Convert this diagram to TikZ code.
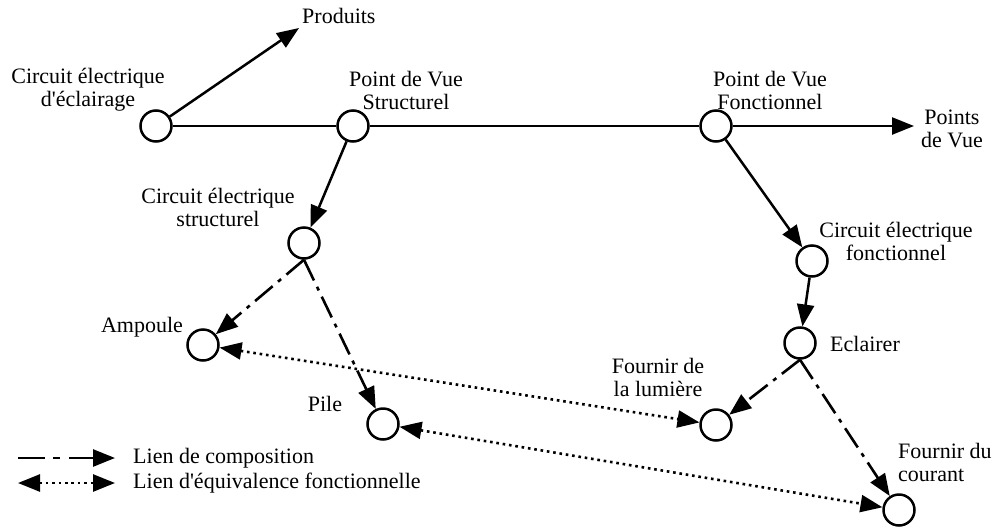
\documentclass[tikz,border=0pt]{standalone}
\usepackage{fontspec}
\setmainfont{Liberation Serif}
\usetikzlibrary{arrows.meta}
\newcommand{\qs}{\textquotesingle}
\begin{document}
\begin{tikzpicture}[x=1pt,y=-1pt,
  every node/.style={font=\fontsize{22}{23}\selectfont},
  pt/.style={draw,circle,line width=2.5pt,minimum size=31pt,inner sep=0pt},
  lbl/.style={align=center,inner sep=0pt},
  lbll/.style={align=left,inner sep=0pt,anchor=west},
  tip/.style={-{Triangle[length=22pt,width=17pt]}},
  dtip/.style={{Triangle[length=22pt,width=17pt]}-{Triangle[length=22pt,width=17pt]}},
  solidln/.style={line width=2.5pt},
  comp/.style={line width=2.6pt,tip,dash pattern=on 23pt off 7pt on 4pt off 7pt},
  equiv/.style={line width=2.6pt,dtip,dash pattern=on 2.6pt off 3.8pt}]
\useasboundingbox (0,0) rectangle (994,528);
% nodes
\node[pt] (A) at (156,126) {};
\node[pt] (PVS) at (353,126) {};
\node[pt] (PVF) at (716,126) {};
\node[pt] (CES) at (304,243) {};
\node[pt] (CEF) at (812,261) {};
\node[pt] (AMP) at (203,345) {};
\node[pt] (PILE) at (383,424) {};
\node[pt] (ECL) at (800,343) {};
\node[pt] (FL) at (716,425) {};
\node[pt] (FC) at (899,510) {};
\coordinate (prodtip) at (299,28);
\coordinate (pvtip) at (914,126);
% labels
\node[lbll] (lprod) at (302,16) {Produits};
\node[lbl] (lA) at (88,90) {Circuit électrique\\d\qs éclairage};
\node[lbl] (lPVS) at (406,90) {Point de Vue\\Structurel};
\node[lbl] (lPVF) at (770,90) {Point de Vue\\Fonctionnel};
\node[lbl] (lPV) at (952,129) {Points\\de Vue};
\node[lbl] (lCES) at (218,207) {Circuit électrique\\structurel};
\node[lbl] (lCEF) at (896,241) {Circuit électrique\\fonctionnel};
\node[lbl] (lAMP) at (142,327) {Ampoule};
\node[lbl] (lPILE) at (325,404) {Pile};
\node[lbl] (lECL) at (865,344) {Eclairer};
\node[lbl] (lFL) at (658,377) {Fournir de\\la lumière};
\node[lbll] (lFC) at (898,462) {Fournir du\\courant};
% solid links
\draw[solidln,tip] (A) -- (prodtip);
\draw[solidln] (A) -- (PVS);
\draw[solidln] (PVS) -- (PVF);
\draw[solidln,tip] (PVF) -- (pvtip);
\draw[solidln,tip] (PVS) -- (CES);
\draw[solidln,tip] (PVF) -- (CEF);
\draw[solidln,tip] (CEF) -- (ECL);
% composition
\draw[comp] (CES.south) -- (AMP);
\draw[comp] (CES.south) -- (PILE);
\draw[comp] (ECL.south) -- (FL);
\draw[comp] (ECL.south) -- (FC);
% equivalence
\draw[equiv] (AMP) -- (FL);
\draw[equiv] (PILE) -- (FC);
% legend
\coordinate (c1a) at (18,458);
\coordinate (c1b) at (115,458);
\coordinate (c2a) at (18,483);
\coordinate (c2b) at (115,483);
\draw[line width=2.6pt,tip,dash pattern=on 27pt off 8pt on 7pt off 9pt] (c1a) -- (c1b);
\draw[equiv] (c2a) -- (c2b);
\node[lbll] (leg1) at (133,458) {Lien de composition};
\node[lbll] (leg2) at (133,483) {Lien d\qs équivalence fonctionnelle};
\end{tikzpicture}
\end{document}
